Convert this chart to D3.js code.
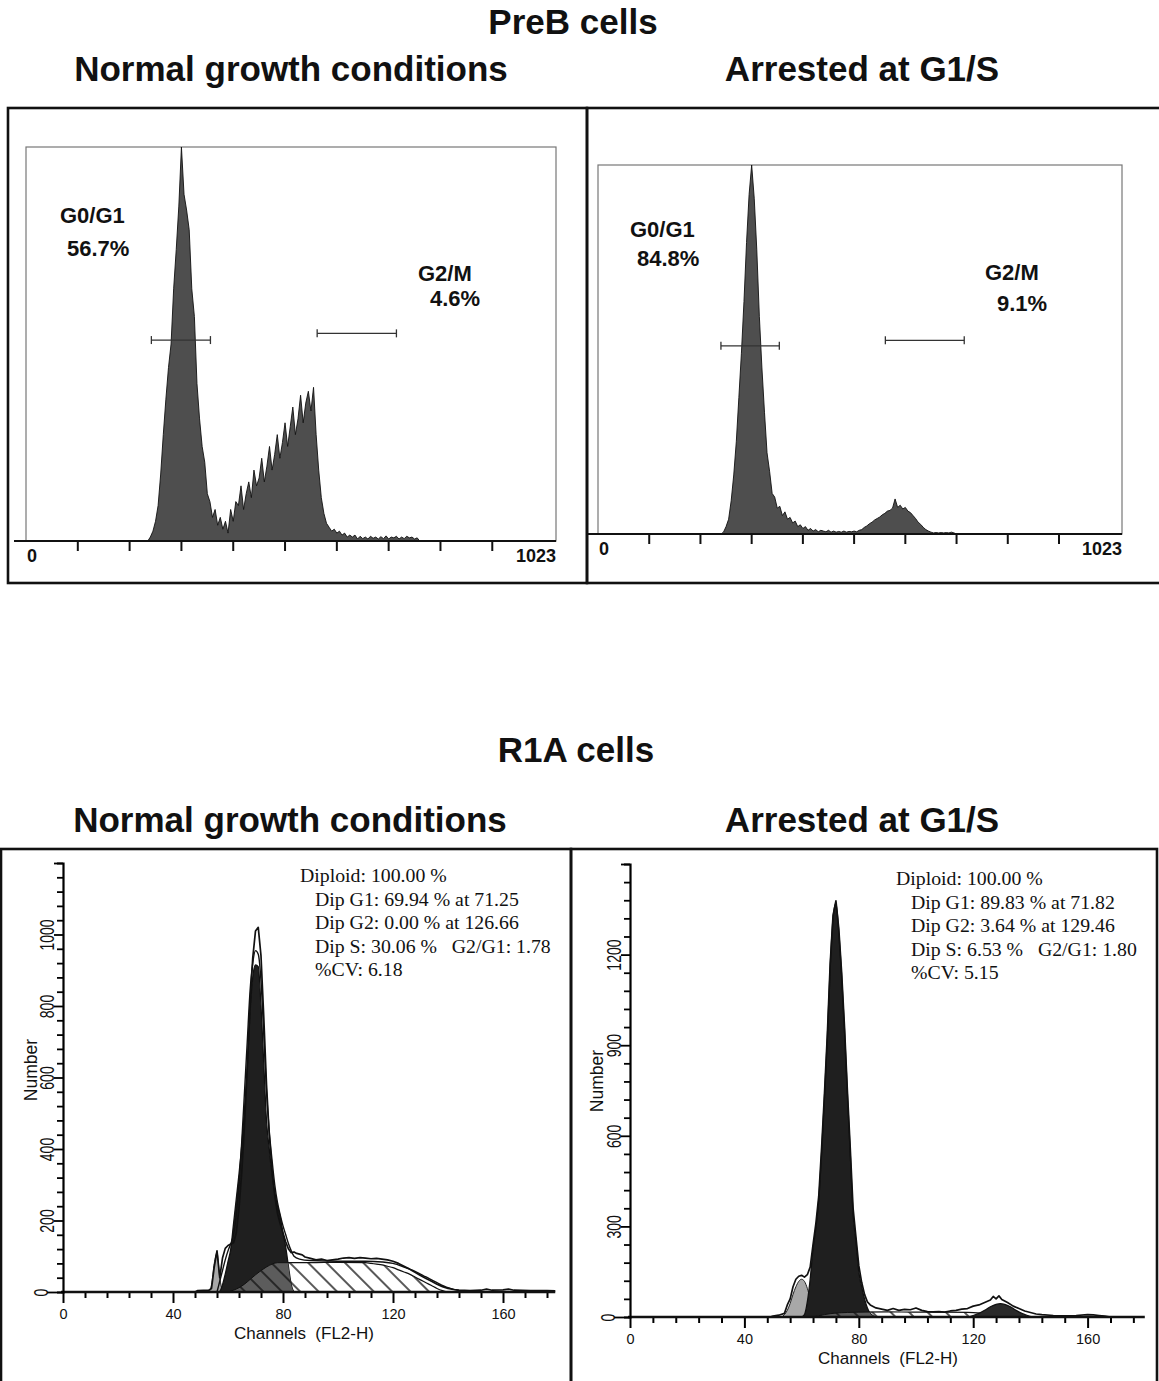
<!DOCTYPE html>
<html>
<head>
<meta charset="utf-8">
<script src="https://cdn.jsdelivr.net/npm/d3@7"></script>
<style>
  body { margin: 0; background: #fff; }
  svg { display: block; }
  text { font-family: "Liberation Sans", Arial, sans-serif; fill: #111; }
  text.stat { font-family: "Liberation Serif", "Times New Roman", serif; }
</style>
</head>
<body>
<svg id="fig" width="1159" height="1381"></svg>
<script>
// ---------- data ----------

// PreB histograms: relative counts (% of peak), one value every 5 channels
const preBStep = 5
const preBNormStart = 235
const preBNormCounts = [0,1,2.5,5,9,17,27,36,44,50,64,74,85,100,88,84,79,64,57,40,31,24,20,12,10,6,8,4,6,3,5,2,8,5,10,9,14,8,12,15,11,18,14,16,21,15,19,24,18,22,27,21,25,30,24,29,34,27,31,37,30,35,38,33,39,27,18,11,7,4.5,3.5,2.5,3,2,2.5,1.5,2,1,1.5,1,1.5,0.5,1.2,0.6,1,0.5,1.2,0.7,1,0.5,1.1,0.6,1.3,0.5,1,0.8,1.2,0.5,1,0.6,1.2,0.8,1,0.5,0.8,0]
const preBArrStart = 240
const preBArrCounts = [0,0.5,2,4,9,16,25,37,49,63,79,92,100,91,77,59,45,33,22,17,11,10,7,7.5,5,6,4,4.5,3,3.5,2,2.5,1.5,2,1,1.5,0.8,1.2,0.6,1,0.8,0.6,1,0.5,0.8,0.5,0.7,0.5,0.8,0.5,0.7,0.6,0.8,0.6,1,1.2,1.8,2.2,2.8,3.2,3.8,4.2,4.6,5.2,5.6,6.2,6.4,7,9.5,7.2,7.8,6.8,7.2,6.2,5.8,5,4.2,3.2,2.6,1.8,1.2,0.8,0.5,0.3,0.4,0.3,0.4,0.3,0.4,0.3,0.5,0.3,0]
const preBTicks = [100,200,300,400,500,600,700,800,900]
// gates: [from channel, to channel, level]
const preBNormGates = [[242,356,51],[562,715,52.7]]
const preBArrGates = [[240,354,51],[561,715,52.5]]
const preBNormLabels = ["G0/G1","56.7%","G2/M","4.6%"]
const preBArrLabels = ["G0/G1","84.8%","G2/M","9.1%"]

// R1A, normal growth: [channel, number]
const r1aNormData = [[48,0],[49,4],[53,5],[54,10],[55,70],[56,115],[57,40],[58,95],[59,122],[60,130],[61,134],[62,138],[63,165],[64,235],[65,335],[66,470],[67,630],[68,800],[69,935],[70,1010],[71,1020],[72,940],[73,770],[74,580],[75,440],[76,345],[77,270],[78,220],[79,190],[80,165],[81,140],[82,120],[83,110],[84,112],[85,108],[86,106],[87,104],[88,98],[90,94],[92,90],[94,92],[96,88],[98,90],[100,92],[102,95],[104,96],[106,94],[108,96],[110,95],[112,93],[114,94],[116,92],[118,90],[120,86],[122,80],[124,72],[126,64],[128,55],[130,46],[132,38],[134,30],[136,22],[138,15],[140,10],[142,7],[144,5],[148,4],[152,5],[154,8],[156,5],[160,6],[162,8],[164,5],[170,4],[176,4],[179,3]]
const r1aNormFit = [[56,0],[57,30],[58,60],[59,90],[60,115],[61,135],[62,160],[63,215],[64,300],[65,420],[66,560],[67,700],[68,840],[69,920],[70,955],[71,945],[72,870],[73,720],[74,560],[75,450],[76,370],[77,300],[78,250],[79,215],[80,185],[81,160],[82,135],[83,115],[84,100],[86,92],[90,88],[100,86],[110,86],[116,84],[120,80],[124,70],[128,58],[132,42],[136,26],[140,12],[144,4],[148,0]]
const r1aNormG1 = [[56,0],[57,2],[58,20],[59,50],[60,85],[61,120],[62,190],[63,260],[64,330],[65,410],[66,510],[67,630],[68,780],[69,880],[70,915],[71,910],[72,800],[73,640],[74,480],[75,400],[76,330],[77,280],[78,240],[79,210],[80,165],[81,125],[82,70],[83,20],[84,0]]
const r1aNormS = [[60,0],[62,5],[64,12],[66,22],[68,35],[70,48],[72,60],[74,70],[76,78],[78,82],[90,82],[100,83],[110,82],[112,80],[114,78],[116,76],[118,72],[120,68],[122,62],[124,56],[126,50],[128,42],[130,34],[132,26],[134,18],[136,10],[138,4],[140,0]]
const r1aNormG2 = []
const r1aNormDebris = [[53,0],[54,20],[55,80],[56,110],[57,40],[58,0]]
const r1aNormStats = ["Diploid: 100.00 %","Dip G1: 69.94 % at 71.25","Dip G2: 0.00 % at 126.66","Dip S: 30.06 %   G2/G1: 1.78","%CV: 6.18"]

// R1A, arrested at G1/S
const r1aArrData = [[49,0],[50,3],[52,6],[54,12],[55,40],[56,60],[57,100],[58,125],[59,135],[60,138],[61,132],[62,140],[63,165],[64,240],[65,310],[66,400],[67,560],[68,740],[69,935],[70,1170],[71,1330],[72,1378],[73,1285],[74,1140],[75,960],[76,750],[77,560],[78,360],[79,265],[80,170],[81,115],[82,75],[83,50],[84,40],[85,35],[86,30],[88,26],[90,22],[92,28],[94,22],[96,25],[98,24],[100,30],[102,22],[104,18],[106,17],[108,18],[110,16],[112,20],[114,22],[116,26],[118,28],[120,36],[122,40],[124,48],[126,56],[127,68],[128,60],[129,70],[130,58],[132,48],[134,36],[136,28],[138,20],[140,15],[142,10],[144,8],[148,5],[152,4],[156,5],[160,8],[162,7],[164,5],[166,3],[168,0]]
const r1aArrFit = []
const r1aArrG1 = [[60,0],[61,8],[62,50],[63,125],[64,225],[65,295],[66,390],[67,545],[68,730],[69,925],[70,1160],[71,1320],[72,1370],[73,1275],[74,1130],[75,950],[76,740],[77,545],[78,340],[79,250],[80,150],[81,100],[82,60],[83,30],[84,12],[85,4],[86,0]]
const r1aArrS = [[64,0],[68,8],[72,13],[76,15],[80,16],[90,17],[100,16],[110,16],[118,15],[124,12],[130,8],[136,4],[140,0]]
const r1aArrG2 = [[118,0],[120,5],[122,12],[124,22],[126,34],[128,42],[129.5,44],[131,42],[133,34],[135,22],[137,12],[139,5],[141,0]]
const r1aArrDebris = [[53,0],[54,8],[55,22],[56,45],[57,75],[58,100],[59,118],[60,125],[61,118],[62,95],[63,60],[64,25],[65,0]]
const r1aArrStats = ["Diploid: 100.00 %","Dip G1: 89.83 % at 71.82","Dip G2: 3.64 % at 129.46","Dip S: 6.53 %   G2/G1: 1.80","%CV: 5.15"]

// ---------- drawing ----------
const svg = d3.select("#fig")
const defs = svg.append("defs")

// S-phase hatching
const hatch = defs.append("pattern").attr("id", "hatch")
    .attr("patternUnits", "userSpaceOnUse")
    .attr("width", 13).attr("height", 13)
    .attr("patternTransform", "rotate(-45)")
hatch.append("line").attr("x1", 1).attr("y1", 0).attr("x2", 1).attr("y2", 13)
    .attr("stroke", "#111").attr("stroke-width", 1.4)

// headings
const headings = [
    { t: "PreB cells", x: 573, y: 34 },
    { t: "Normal growth conditions", x: 291, y: 81 },
    { t: "Arrested at G1/S", x: 862, y: 81 },
    { t: "R1A cells", x: 576, y: 762 },
    { t: "Normal growth conditions", x: 290, y: 832 },
    { t: "Arrested at G1/S", x: 862, y: 832 }
]
svg.append("g").selectAll("text").data(headings).join("text")
    .attr("x", d => d.x).attr("y", d => d.y)
    .attr("text-anchor", "middle")
    .attr("font-size", 35).attr("font-weight", "bold")
    .text(d => d.t)

// panel boxes
const boxes = [[8, 108, 579, 475], [587, 108, 580, 475], [1, 849, 570, 545], [571, 849, 586, 545]]
svg.append("g").selectAll("rect").data(boxes).join("rect")
    .attr("x", d => d[0]).attr("y", d => d[1]).attr("width", d => d[2]).attr("height", d => d[3])
    .attr("fill", "none").attr("stroke", "#111").attr("stroke-width", 2.6)

function drawPreB(p) {
    const x = d3.scaleLinear().domain([0, 1023]).range([p.x0, p.x1])
    const y = d3.scaleLinear().domain([0, 100]).range([p.yBase, p.yTop])
    const g = svg.append("g")

    g.append("rect")
        .attr("x", p.x0).attr("y", p.yTop)
        .attr("width", p.x1 - p.x0).attr("height", p.yBase - p.yTop)
        .attr("fill", "none").attr("stroke", "#777").attr("stroke-width", 1.2)

    const pts = p.counts.map((v, i) => [p.start + i * preBStep, v])
    g.append("path").datum(pts)
        .attr("d", d3.area().x(d => x(d[0])).y0(y(0)).y1(d => y(d[1])))
        .attr("fill", "#4e4e4e").attr("stroke", "#111").attr("stroke-width", 0.9)

    // axis
    g.append("line").attr("x1", p.axisStart).attr("x2", p.x1)
        .attr("y1", y(0)).attr("y2", y(0))
        .attr("stroke", "#111").attr("stroke-width", 2.2)
    g.selectAll(".tk").data(preBTicks).join("line")
        .attr("x1", d => x(d)).attr("x2", d => x(d))
        .attr("y1", y(0)).attr("y2", y(0) + 10)
        .attr("stroke", "#111").attr("stroke-width", 2)
    g.append("text").attr("x", p.x0 + 6).attr("y", y(0) + 21)
        .attr("text-anchor", "middle").attr("font-size", 18).attr("font-weight", "bold").text("0")
    g.append("text").attr("x", p.x1).attr("y", y(0) + 21)
        .attr("text-anchor", "end").attr("font-size", 18).attr("font-weight", "bold").text("1023")

    // gates
    p.gates.forEach(([a, b, lv]) => {
        const gy = y(lv)
        g.append("line").attr("x1", x(a)).attr("x2", x(b)).attr("y1", gy).attr("y2", gy)
            .attr("stroke", "#333").attr("stroke-width", 1.3)
        ;[a, b].forEach(c => g.append("line").attr("x1", x(c)).attr("x2", x(c))
            .attr("y1", gy - 4).attr("y2", gy + 4).attr("stroke", "#333").attr("stroke-width", 1.3))
    })

    // phase labels
    g.selectAll(".lab").data(p.labels).join("text")
        .attr("x", (d, i) => p.labelPos[i][0]).attr("y", (d, i) => p.labelPos[i][1])
        .attr("font-size", 22).attr("font-weight", "bold")
        .text(d => d)
}

drawPreB({
    start: preBNormStart, counts: preBNormCounts, gates: preBNormGates, labels: preBNormLabels,
    x0: 26, x1: 556, yTop: 147, yBase: 541, axisStart: 14,
    labelPos: [[60, 223], [67, 256], [418, 281], [430, 306]]
})
drawPreB({
    start: preBArrStart, counts: preBArrCounts, gates: preBArrGates, labels: preBArrLabels,
    x0: 598, x1: 1122, yTop: 165, yBase: 534, axisStart: 588,
    labelPos: [[630, 237], [637, 266], [985, 280], [997, 311]]
})

function drawR1A(p) {
    const x = d3.scaleLinear().domain([0, 180]).range(p.xr)
    const y = d3.scaleLinear().domain([0, p.yMax]).range(p.yr)
    const g = svg.append("g")
    const curve = d3.curveMonotoneX
    const area = d3.area().x(d => x(d[0])).y0(y(0)).y1(d => y(d[1])).curve(curve)
    const line = d3.line().x(d => x(d[0])).y(d => y(d[1])).curve(curve)

    // debris (light grey)
    g.append("path").attr("d", area(p.debris))
        .attr("fill", "#a8a8a8").attr("stroke", "#222").attr("stroke-width", 1)
    // S phase hatched
    g.append("path").attr("d", area(p.s))
        .attr("fill", "url(#hatch)").attr("stroke", "#111").attr("stroke-width", 1.2)
    // G1 peak
    g.append("path").attr("d", area(p.g1))
        .attr("fill", "#1f1f1f").attr("stroke", "#111").attr("stroke-width", 1.3)
    // S where it lies under G1
    defs.append("clipPath").attr("id", p.id + "-g1").append("path").attr("d", area(p.g1))
    g.append("path").attr("d", area(p.s)).attr("clip-path", `url(#${p.id}-g1)`)
        .attr("fill", "#5c5c5c")
    g.append("path").attr("d", area(p.s)).attr("clip-path", `url(#${p.id}-g1)`)
        .attr("fill", "url(#hatch)").attr("stroke", "#111").attr("stroke-width", 1)
    // G2 peak
    if (p.g2.length) g.append("path").attr("d", area(p.g2))
        .attr("fill", "#2a2a2a").attr("stroke", "#111").attr("stroke-width", 1.2)
    // model fit and raw data outlines
    if (p.fit.length) g.append("path").attr("d", line(p.fit))
        .attr("fill", "none").attr("stroke", "#111").attr("stroke-width", 1.4)
    g.append("path").attr("d", d3.line().x(d => x(d[0])).y(d => y(d[1]))(p.data))
        .attr("fill", "none").attr("stroke", "#111").attr("stroke-width", 1.7).attr("stroke-linejoin", "round")

    // x axis
    const xa = g.append("g").attr("transform", `translate(0,${y(0)})`)
        .call(d3.axisBottom(x).tickValues(d3.range(0, 177, 8)).tickSize(6)
            .tickFormat(d => d % 40 === 0 ? d : ""))
        .attr("font-size", 14.5).attr("font-family", null)
    xa.select(".domain").remove()
    xa.selectAll(".tick line").attr("y2", d => d % 40 === 0 ? 11 : 6).attr("stroke-width", 2)
    xa.selectAll(".tick text").attr("y", 17)
    g.append("line").attr("x1", x(0) - 2).attr("x2", x(p.xEnd)).attr("y1", y(0)).attr("y2", y(0))
        .attr("stroke", "#111").attr("stroke-width", 2.4)

    // y axis (top tick unlabelled)
    const ya = g.append("g").attr("transform", `translate(${x(0)},0)`)
        .call(d3.axisLeft(y).tickValues(d3.range(0, p.yMax + 1, p.yMinor)).tickSize(6)
            .tickFormat(d => d % p.yMajor === 0 && d < p.yMax ? d : ""))
        .attr("font-size", 14).attr("font-family", null)
    ya.select(".domain").attr("stroke-width", 2.2)
    ya.selectAll(".tick line").attr("x2", d => d === 0 ? -16 : (d % p.yMajor === 0 ? -9 : -6))
        .attr("stroke-width", 1.8)
    ya.selectAll(".tick text")
        .attr("x", 0).attr("y", 0).attr("dy", 0)
        .attr("text-anchor", "middle")
        .attr("transform", d => `translate(${d === 0 ? -15 : -9},0) rotate(-90) scale(1,1.4)`)

    // axis titles
    g.append("text").attr("transform", `translate(${p.numPos[0]},${p.numPos[1]}) rotate(-90)`)
        .attr("text-anchor", "middle").attr("font-size", 17.5).text("Number")
    g.append("text").attr("x", p.chPos[0]).attr("y", p.chPos[1])
        .attr("text-anchor", "middle").attr("font-size", 17).text("Channels\u00a0\u00a0(FL2-H)")

    // statistics box
    g.selectAll(".stat").data(p.stats).join("text")
        .attr("class", "stat")
        .attr("x", (d, i) => i === 0 ? p.statPos[0] : p.statPos[0] + 15)
        .attr("y", (d, i) => p.statPos[1] + i * 23.5)
        .attr("font-size", 19.8)
        .text(d => d.replace(/ {2,}/g, m => "\u00a0".repeat(m.length)))
}

drawR1A({
    id: "r1aNorm", data: r1aNormData, fit: r1aNormFit, g1: r1aNormG1, s: r1aNormS, g2: r1aNormG2,
    debris: r1aNormDebris, stats: r1aNormStats,
    xr: [63, 63 + 180 * 2.75], yr: [1292, 863], yMax: 1200, yMinor: 40, yMajor: 200, xEnd: 179,
    numPos: [37, 1070], chPos: [304, 1339], statPos: [300, 882]
})
drawR1A({
    id: "r1aArr", data: r1aArrData, fit: r1aArrFit, g1: r1aArrG1, s: r1aArrS, g2: r1aArrG2,
    debris: r1aArrDebris, stats: r1aArrStats,
    xr: [630, 630 + 180 * 2.86], yr: [1317, 864], yMax: 1500, yMinor: 60, yMajor: 300, xEnd: 180,
    numPos: [603, 1081], chPos: [888, 1364], statPos: [896, 885]
})
</script>
</body>
</html>
